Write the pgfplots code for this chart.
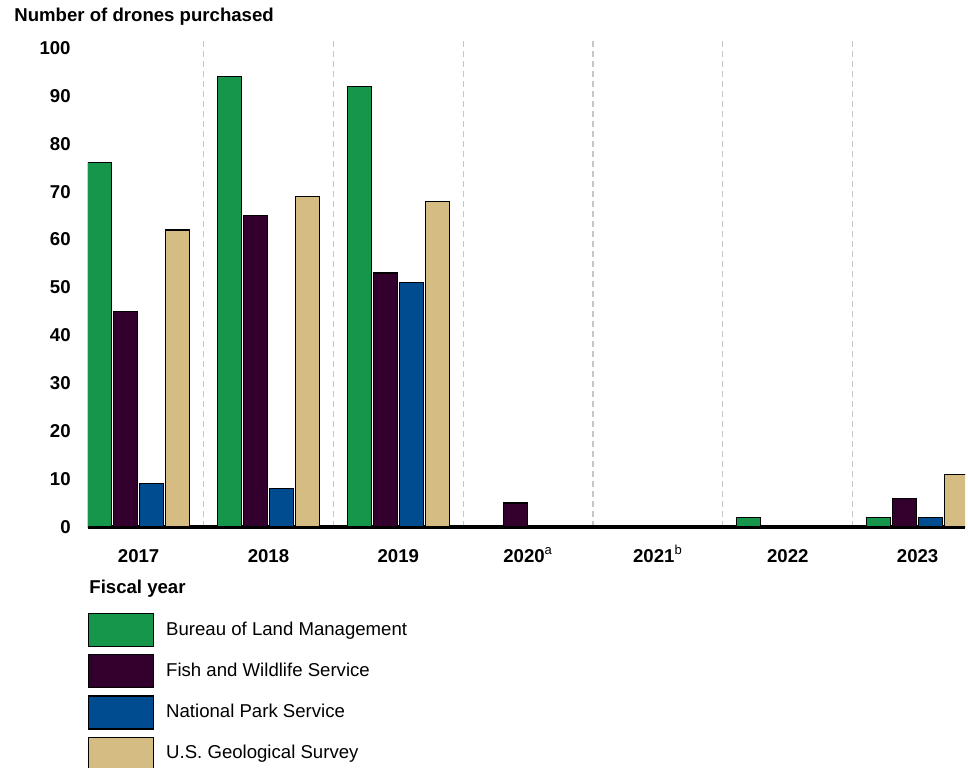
\documentclass[border=0pt]{standalone}
\usepackage{pgfplots}
\pgfplotsset{compat=1.18}
\usepackage{fontspec}
\setmainfont{Liberation Sans}

\definecolor{blm}{RGB}{22,150,74}
\definecolor{fws}{RGB}{51,0,46}
\definecolor{nps}{RGB}{0,76,145}
\definecolor{usgs}{RGB}{212,188,130}

\begin{document}
\begin{tikzpicture}
\begin{axis}[
    name=ax,
    scale only axis,
    width=438.5pt, height=243.4pt,
    xmin=-0.39, xmax=6.365,
    ymin=0, ymax=101.6,
    ybar=1pt, bar width=12pt,
    axis x line=bottom, axis y line=left,
    x axis line style={-, line width=2pt},
    y axis line style={draw=none},
    major tick length=0pt, minor tick length=0pt,
    xtick={0,1,2,3,4,5,6},
    xticklabels={2017, 2018, 2019, 2020\textsuperscript{\mdseries a}, 2021\textsuperscript{\mdseries b}, 2022, 2023},
    ytick={0,10,...,100},
    minor xtick={0.5,1.5,...,5.5},
    xminorgrids=true,
    minor grid style={gray!45, line width=0.6pt, dash pattern=on 3pt off 2pt},
    tick label style={font=\fontsize{9.3}{11}\selectfont\bfseries},
    /pgf/number format/assume math mode=true,
    xticklabel style={anchor=base, inner sep=0pt, yshift=-17.8pt},
    yticklabel style={anchor=east, inner sep=0pt, xshift=-8.5pt},
    every axis plot/.append style={draw=black, line width=0.6pt},
    legend cell align=left,
    legend image code/.code={\draw[#1] (0pt,-8.25pt) rectangle (32.5pt,8.25pt);},
    legend style={draw=none, at={(rel axis cs:0,0)}, anchor=north west,
        yshift=-43pt, inner sep=0pt, outer sep=0pt, row sep=3.5pt,
        font=\fontsize{9.3}{11}\selectfont,
        nodes={inner xsep=6pt, inner ysep=0pt}},
]
\addplot[fill=blm] coordinates {(0,76) (1,94) (2,92) (5,2) (6,2)};
\addplot[fill=fws] coordinates {(0,45) (1,65) (2,53) (3,5) (6,6)};
\addplot[fill=nps] coordinates {(0,9) (1,8) (2,51) (6,2)};
\addplot[fill=usgs] coordinates {(0,62) (1,69) (2,68) (6,11)};
\legend{Bureau of Land Management, Fish and Wildlife Service, National Park Service, U.S. Geological Survey}
\end{axis}
\node[anchor=west, inner sep=0pt, font=\fontsize{9.3}{11}\selectfont\bfseries]
    at ([shift={(-37pt,255pt)}]ax.south west) {Number of drones purchased};
\node[anchor=west, inner sep=0pt, font=\fontsize{9.3}{11}\selectfont\bfseries]
    at ([shift={(0.5pt,-31pt)}]ax.south west) {Fiscal year};
\pgfresetboundingbox
\path ([shift={(-44pt,-120pt)}]ax.south west) rectangle ++(484pt,383.5pt);
\end{tikzpicture}
\end{document}
